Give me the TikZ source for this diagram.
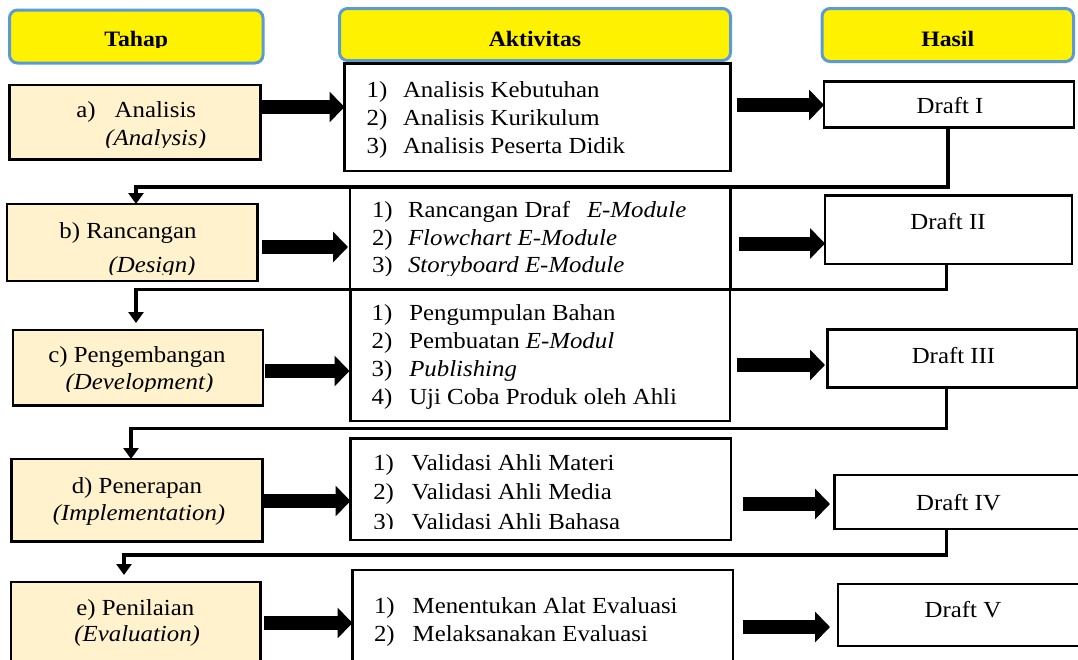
\documentclass[tikz,border=0pt]{standalone}
\usepackage{fontspec}
\setmainfont{Liberation Serif}[FakeStretch=1.08]
\usetikzlibrary{arrows.meta}
\definecolor{hdrblue}{HTML}{5B9BD5}
\definecolor{cream}{HTML}{FFF2CC}
\begin{document}
\begin{tikzpicture}[x=1pt,y=-1pt,
  every node/.style={inner sep=0pt,outer sep=0pt},
  hdr/.style={draw=hdrblue,fill=yellow,line width=3pt,rounded corners=8pt},
  stagebox/.style={draw=black,fill=cream,line width=2.5pt},
  actbox/.style={draw=black,fill=white,line width=2.5pt},
  draftbox/.style={draw=black,fill=white,line width=2.5pt},
  txt/.style={anchor=base west,font=\fontsize{23}{28}\selectfont},
  ctxt/.style={anchor=base,font=\fontsize{23}{28}\selectfont},
  htxt/.style={anchor=base,font=\fontsize{22}{25}\selectfont\bfseries},
  bigarrow/.style={line width=14pt,-{Triangle[length=15pt,width=30pt]}},
  conn/.style={line width=3.5pt,-{Triangle[length=11pt,width=15pt]}}]
\useasboundingbox (0,0) rectangle (1078,659);
\clip (0,0) rectangle (1078,659);
% headers
\node[hdr,minimum width=253.5pt,minimum height=53pt] (hT) at (136.25,36.5) {};
\node[hdr,minimum width=391pt,minimum height=52pt] (hA) at (535,34.5) {};
\node[hdr,minimum width=251.5pt,minimum height=53pt] (hH) at (947.75,35) {};
\begin{scope}
\clip (0,0) rectangle (1078,47.5);
\node[htxt] (hTt) at (hT.center |- 0,46.5) {Tahap};
\node[htxt] (hAt) at (hA.center |- 0,46.5) {Aktivitas};
\node[htxt] (hHt) at (hH.center |- 0,46.5) {Hasil};
\end{scope}
% stage boxes
\node[stagebox,minimum width=251pt,minimum height=74.5pt] (ta) at (135,122.25) {};
\node[stagebox,minimum width=250.5pt,minimum height=77pt] (tb) at (132.25,242.5) {};
\node[stagebox,minimum width=250pt,minimum height=75.5pt] (tc) at (138,367.75) {};
\node[stagebox,minimum width=251pt,minimum height=82.5pt] (td) at (137,500.25) {};
\node[stagebox,minimum width=249.5pt,minimum height=118pt] (te) at (135.75,641) {};
% activity boxes
\node[actbox,minimum width=386pt,minimum height=107.5pt] (aa) at (537.5,117.25) {};
\node[actbox,minimum width=380.5pt,minimum height=103pt] (ab) at (540.25,237.5) {};
\node[actbox,minimum width=379.5pt,minimum height=132pt] (ac) at (540.25,355) {};
\node[actbox,minimum width=380.5pt,minimum height=101.5pt] (ad) at (540.75,489.25) {};
\node[actbox,minimum width=380.5pt,minimum height=130pt] (ae) at (542.75,635) {};
% draft boxes
\node[draftbox,minimum width=250pt,minimum height=46pt] (d1) at (949,104.5) {};
\node[draftbox,minimum width=247pt,minimum height=68.5pt] (d2) at (948.5,229.75) {};
\node[draftbox,minimum width=249.5pt,minimum height=58pt] (d3) at (952.25,358.5) {};
\node[draftbox,minimum width=265.5pt,minimum height=54pt] (d4) at (967.25,502) {};
\node[draftbox,minimum width=262pt,minimum height=62pt] (d5) at (969,615) {};
% big arrows
\draw[bigarrow] (ta.east |- 0,107) -- (aa.west |- 0,107);
\draw[bigarrow,shorten <=6.5pt] (aa.east |- 0,105) -- (d1.west |- 0,105);
\draw[bigarrow,shorten <=4pt,shorten >=2pt] (tb.east |- 0,247) -- (ab.west |- 0,247);
\draw[bigarrow,shorten <=8.5pt] (ab.east |- 0,243.5) -- (d2.west |- 0,243.5);
\draw[bigarrow,shorten <=1.5pt,shorten >=1pt] (tc.east |- 0,371) -- (ac.west |- 0,371);
\draw[bigarrow,shorten <=7pt,shorten >=2.5pt] (ac.east |- 0,365) -- (d3.west |- 0,365);
\draw[bigarrow,shorten <=1.5pt] (td.east |- 0,501) -- (ad.west |- 0,501);
\draw[bigarrow,shorten <=11.5pt,shorten >=4.5pt] (ad.east |- 0,504) -- (d4.west |- 0,504);
\draw[bigarrow,shorten <=3.5pt] (te.east |- 0,623) -- (ae.west |- 0,623);
\draw[bigarrow,shorten <=9.5pt,shorten >=8pt] (ae.east |- 0,627) -- (d5.west |- 0,627);
% connectors
\draw[conn] (d1.south -| 948,0) |- (136,187) -- (tb.north -| 136,0);
\draw[conn,shorten >=7pt] (d2.south -| 946.7,0) |- (136,289.5) -- (tc.north -| 136,0);
\draw[conn] (d3.south -| 946.7,0) |- (131,428.5) -- (td.north -| 131,0);
\draw[conn,shorten >=7pt] (d4.south -| 946.7,0) |- (124,555) -- (te.north -| 124,0);
% stage texts
\node[txt] (ta1) at (76.4,117) {a)};
\node[txt] (ta2) at (114.7,117) {Analisis};
\begin{scope}
\clip (0,0) rectangle (1078,147);
\node[ctxt] (ta3) at (155.7,145) {\itshape (Analysis)};
\end{scope}
\node[ctxt] (tb1) at (128,238) {b) Rancangan};
\begin{scope}
\clip (0,0) rectangle (1078,274.5);
\node[ctxt] (tb2) at (152,272.5) {\itshape (Design)};
\end{scope}
\node[ctxt] (tc1) at (137,362) {c) Pengembangan};
\begin{scope}
\clip (0,0) rectangle (1078,391);
\node[ctxt] (tc2) at (139.5,389.5) {\itshape (Development)};
\end{scope}
\node[ctxt] (td1) at (137,493.3) {d) Penerapan};
\node[ctxt] (td2) at (139,520) {\itshape (Implementation)};
\node[ctxt] (te1) at (135.3,615) {e) Penilaian};
\node[ctxt] (te2) at (137.2,641.7) {\itshape (Evaluation)};
% activity texts a
\node[txt] (aa1n) at (366.7,97) {1)};
\node[txt] (aa1) at (403,97) {Analisis Kebutuhan};
\node[txt] (aa2n) at (366.7,125) {2)};
\node[txt] (aa2) at (403,125) {Analisis Kurikulum};
\node[txt] (aa3n) at (366.7,153) {3)};
\node[txt] (aa3) at (403,153) {Analisis Peserta Didik};
% activity texts b
\begin{scope}
\clip (0,0) rectangle (1078,275);
\node[txt] (ab1n) at (372,217) {1)};
\node[txt] (ab1) at (408,217) {Rancangan Draf};
\node[txt] (ab1i) at (587,217) {\itshape E-Module};
\node[txt] (ab2n) at (372,245) {2)};
\node[txt] (ab2) at (408,245) {\itshape Flowchart E-Module};
\node[txt] (ab3n) at (372,272) {3)};
\node[txt] (ab3) at (408,272) {\itshape Storyboard E-Module};
\end{scope}
% activity texts c
\node[txt] (ac1n) at (371.7,320) {1)};
\node[txt] (ac1) at (409.3,320) {Pengumpulan Bahan};
\node[txt] (ac2n) at (371.7,348) {2)};
\node[txt] (ac2) at (409.3,348) {Pembuatan \textit{E-Modul}};
\node[txt] (ac3n) at (371.7,376) {3)};
\node[txt] (ac3) at (409.3,376) {\itshape Publishing};
\node[txt] (ac4n) at (371.7,404) {4)};
\node[txt] (ac4) at (409.3,404) {Uji Coba Produk oleh Ahli};
% activity texts d
\begin{scope}
\clip (0,0) rectangle (1078,528);
\node[txt] (ad1n) at (373.3,470) {1)};
\node[txt] (ad1) at (411.7,470) {Validasi Ahli Materi};
\node[txt] (ad2n) at (373.3,499.5) {2)};
\node[txt] (ad2) at (411.7,499.5) {Validasi Ahli Media};
\node[txt] (ad3n) at (373.3,529) {3)};
\node[txt] (ad3) at (411.7,529) {Validasi Ahli Bahasa};
\end{scope}
% activity texts e
\node[txt] (ae1n) at (374,613) {1)};
\node[txt] (ae1) at (412.7,613) {Menentukan Alat Evaluasi};
\node[txt] (ae2n) at (374,641) {2)};
\node[txt] (ae2) at (412.7,641) {Melaksanakan Evaluasi};
% draft texts
\node[ctxt] (d1t) at (950,113) {Draft I};
\node[ctxt] (d2t) at (948,229) {Draft II};
\node[ctxt] (d3t) at (953.5,363) {Draft III};
\node[ctxt] (d4t) at (958.5,510) {Draft IV};
\node[ctxt] (d5t) at (963,617) {Draft V};
\end{tikzpicture}
\end{document}
